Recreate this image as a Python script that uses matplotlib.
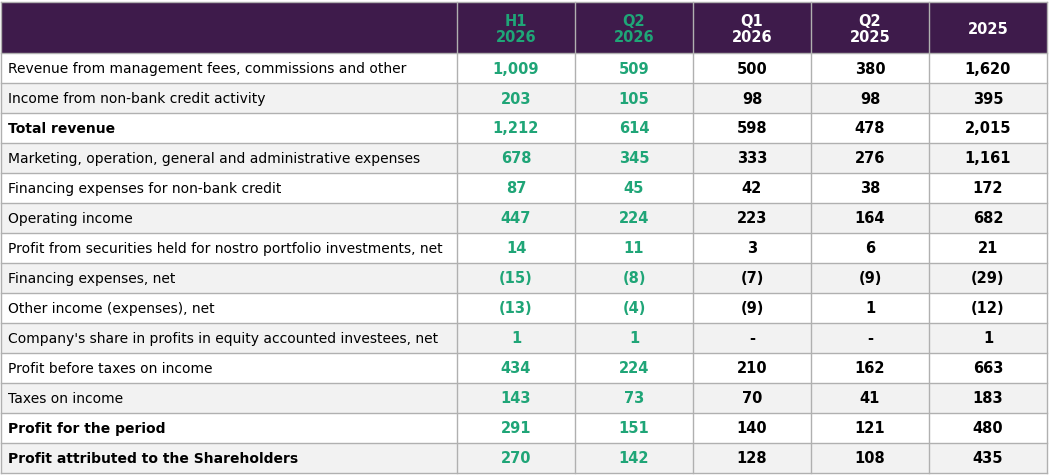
import matplotlib
matplotlib.use("Agg")
import matplotlib.pyplot as plt
from matplotlib.patches import Rectangle

headers = ["H1\n2026", "Q2\n2026", "Q1\n2026", "Q2\n2025", "2025"]
labels = [
    "Revenue from management fees, commissions and other",
    "Income from non-bank credit activity",
    "Total revenue",
    "Marketing, operation, general and administrative expenses",
    "Financing expenses for non-bank credit",
    "Operating income",
    "Profit from securities held for nostro portfolio investments, net",
    "Financing expenses, net",
    "Other income (expenses), net",
    "Company's share in profits in equity accounted investees, net",
    "Profit before taxes on income",
    "Taxes on income",
    "Profit for the period",
    "Profit attributed to the Shareholders",
]
bold_rows = {"Total revenue", "Profit for the period", "Profit attributed to the Shareholders"}
h1_2026 = ["1,009", "203", "1,212", "678", "87", "447", "14", "(15)", "(13)", "1", "434", "143", "291", "270"]
q2_2026 = ["509", "105", "614", "345", "45", "224", "11", "(8)", "(4)", "1", "224", "73", "151", "142"]
q1_2026 = ["500", "98", "598", "333", "42", "223", "3", "(7)", "(9)", "-", "210", "70", "140", "128"]
q2_2025 = ["380", "98", "478", "276", "38", "164", "6", "(9)", "1", "-", "162", "41", "121", "108"]
y2025 = ["1,620", "395", "2,015", "1,161", "172", "682", "21", "(29)", "(12)", "1", "663", "183", "480", "435"]
columns = [h1_2026, q2_2026, q1_2026, q2_2025, y2025]

W, H = 1051, 477
fig = plt.figure(figsize=(W/100, H/100), dpi=100)
ax = fig.add_axes([0, 0, 1, 1])
ax.set_xlim(0, W); ax.set_ylim(H, 0); ax.axis("off")

purple = "#3e1b4b"; green = "#1fa577"; grid = "#b0b0b0"; shade = "#f2f2f2"
xs = [1, 457, 575, 693, 811, 929, 1047]
top, hb, rh = 3, 54, 30

ax.add_patch(Rectangle((xs[0], top), xs[-1]-xs[0], hb-top, fc=purple, ec="none"))
for i in range(len(labels)):
    y0 = hb + i*rh
    ax.add_patch(Rectangle((xs[0], y0), xs[-1]-xs[0], rh, fc=shade if i % 2 else "white", ec="none"))
# grid lines
for x in xs:
    ax.plot([x, x], [top, hb + len(labels)*rh], color=grid, lw=1)
for i in range(len(labels)+1):
    y = hb + i*rh
    ax.plot([xs[0], xs[-1]], [y, y], color=grid, lw=1)
ax.plot([xs[0], xs[-1]], [top, top], color=grid, lw=1)

for j, hd in enumerate(headers):
    cx = (xs[j+1] + xs[j+2]) / 2
    ax.text(cx, (top+hb)/2 + 1, hd, ha="center", va="center", fontsize=10.5, fontweight="bold",
            color=green if j < 2 else "white", linespacing=1.1)

for i, lab in enumerate(labels):
    cy = hb + i*rh + rh/2
    ax.text(8, cy, lab, ha="left", va="center", fontsize=10, color="black",
            fontweight="bold" if lab in bold_rows else "normal")
    for j, col in enumerate(columns):
        cx = (xs[j+1] + xs[j+2]) / 2
        ax.text(cx, cy, col[i], ha="center", va="center", fontsize=10.5, fontweight="bold",
                color=green if j < 2 else "black")

fig.savefig("out.png", dpi=100)
